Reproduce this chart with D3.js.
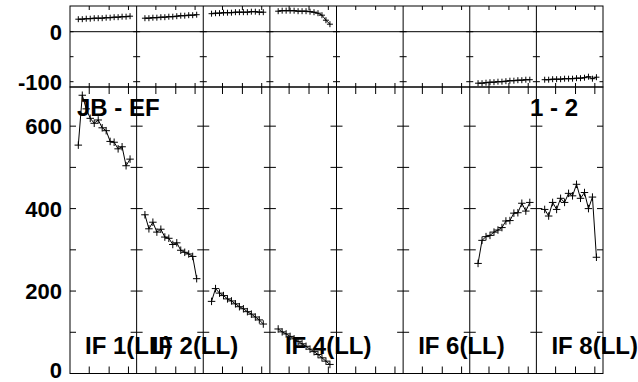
<!DOCTYPE html>
<html><head><meta charset="utf-8">
<script src="https://cdn.jsdelivr.net/npm/d3@7"></script>
<style>html,body{margin:0;padding:0;background:#fff;overflow:hidden}</style>
</head><body>
<script>
// ---- data ----
const channels = [1,2,3,4,5,6,7,8,9,10,11,12,13,14];
const ifNumbers = [1,2,3,4,5,6,7,8];
const ampIF1 = [554, 675, 642, 619, 607, 615, 596, 589, 563, 561, 545, 550, 504, 520];
const ampIF2 = [385, 351, 367, 343, 350, 331, 328, 313, 317, 299, 294, 290, 284, 230];
const ampIF3 = [175, 206, 195, 189, 181, 176, 169, 162, 157, 150, 144, 137, 130, 120];
const ampIF4 = [108, 101, 96, 90, 84, 78, 72, 66, 59, 53, 46, 38, 30, 22];
const ampIF7 = [267, 323, 332, 335, 343, 348, 354, 370, 371, 389, 390, 413, 394, 415];
const ampIF8 = [398, 382, 415, 398, 425, 415, 437, 431, 459, 425, 439, 400, 428, 282];
const phaseIF1 = [25,25,26,26,27,27,27,28,28,29,29,30,30,31];
const phaseIF2 = [27,27,28,28,29,29,30,30,31,32,32,33,33,34];
const phaseIF3 = [36,37,37,38,38,38,39,39,39,39,40,40,39,39];
const phaseIF4 = [41,42,42,42,42,41,41,41,40,39,37,33,23,15];
const phaseIF7 = [-103,-103,-102,-101,-101,-100,-100,-99,-98,-98,-97,-97,-96,-96];
const phaseIF8 = [-96,-96,-95,-95,-95,-94,-94,-94,-93,-93,-92,-90,-94,-91];
const ampSeries = [ampIF1, ampIF2, ampIF3, ampIF4, null, null, ampIF7, ampIF8];
const phaseSeries = [phaseIF1, phaseIF2, phaseIF3, phaseIF4, null, null, phaseIF7, phaseIF8];
const labelIFs = [1,2,4,6,8];
const labelText = ["IF 1(LL)","IF 2(LL)","IF 4(LL)","IF 6(LL)","IF 8(LL)"];
const phaseTicks = [0,-100];
const phaseMinor = [-50,-100,0];
const ampTicks = [0,200,400,600];
const ampMinor = [100,200,300,400,500,600];
const chanTicks = [3.75, 8.75, 13.6];
const baselineLabel = "JB - EF";
const polLabel = "1 - 2";

// ---- layout ----
const W = 638, H = 382;
const L = 70, R = 603, T = 6, MID = 87, B = 373.5;
const svg = d3.select("body").append("svg").attr("width", W).attr("height", H);
const font = "'Liberation Sans', Arial, sans-serif";

const colX = d3.scaleLinear().domain([0, ifNumbers.length]).range([L, R]);
const colW = colX(1) - colX(0);
const yPh = d3.scaleLinear().domain([-110.6, 51.4]).range([MID, T]);
const yAmp = d3.scaleLinear().domain([0, 695]).range([B, MID]);
const chanX = i => d3.scaleLinear().domain([-1.085, 15.65]).range([colX(i), colX(i) + colW]);

const g = svg.append("g").attr("fill","none").attr("stroke","#000").attr("stroke-width",1);

// frames
g.append("rect").attr("x", L).attr("y", T).attr("width", R - L).attr("height", MID - T);
g.append("rect").attr("x", L).attr("y", MID).attr("width", R - L).attr("height", B - MID);
// zero line in phase panel
g.append("line").attr("x1", L).attr("x2", R).attr("y1", yPh(0)).attr("y2", yPh(0));
// column dividers
ifNumbers.slice(1).forEach((d, i) => {
  const x = colX(i + 1);
  g.append("line").attr("x1", x).attr("x2", x).attr("y1", T).attr("y2", B);
});
// y ticks on borders/dividers
d3.range(0, ifNumbers.length + 1).forEach(i => {
  const x = colX(i);
  const lft = i === 0 ? 0 : 3.5, rgt = i === ifNumbers.length ? 0 : 3.5;
  phaseMinor.forEach(v => g.append("line").attr("x1", x - lft).attr("x2", x + rgt).attr("y1", yPh(v)).attr("y2", yPh(v)));
  const lft2 = i === 0 ? 0 : 6, rgt2 = i === ifNumbers.length ? 0 : 6;
  ampMinor.forEach(v => g.append("line").attr("x1", x - lft2).attr("x2", x + rgt2).attr("y1", yAmp(v)).attr("y2", yAmp(v)));
});
// x ticks
ifNumbers.forEach((d, i) => {
  const xs = chanX(i);
  chanTicks.forEach(c => {
    const x = xs(c);
    g.append("line").attr("x1", x).attr("x2", x).attr("y1", T).attr("y2", T + 4);
    g.append("line").attr("x1", x).attr("x2", x).attr("y1", MID - 4).attr("y2", MID);
    g.append("line").attr("x1", x).attr("x2", x).attr("y1", MID).attr("y2", MID + 7);
    g.append("line").attr("x1", x).attr("x2", x).attr("y1", B - 7).attr("y2", B);
  });
});

// tick labels
const tl = svg.append("g").attr("font-family", font).attr("font-weight", "bold").attr("font-size", 22).attr("text-anchor", "end").attr("fill","#000");
phaseTicks.forEach(v => tl.append("text").attr("x", 62).attr("y", yPh(v)).attr("dy", "0.36em").text(v));
ampTicks.forEach(v => tl.append("text").attr("x", 62).attr("y", Math.min(yAmp(v), 370.5)).attr("dy", "0.36em").text(v));

// panel labels
const lab = svg.append("g").attr("font-family", font).attr("font-weight", "bold").attr("font-size", 24).attr("fill","#000");
lab.append("text").attr("x", 77).attr("y", 115.5).text(baselineLabel);
lab.append("text").attr("x", 530).attr("y", 115.5).text(polLabel);
labelIFs.forEach((n, k) => lab.append("text").attr("x", colX(n - 1) + 15).attr("y", 353.5).text(labelText[k]));

// data
const dg = svg.append("g").attr("fill","none").attr("stroke","#000").attr("stroke-width",1);
function plus(sel, x, y, hw, hh) {
  sel.append("line").attr("x1", x - hw).attr("x2", x + hw).attr("y1", y).attr("y2", y);
  sel.append("line").attr("x1", x).attr("x2", x).attr("y1", y - hh).attr("y2", y + hh);
}
ifNumbers.forEach((n, i) => {
  const xs = chanX(i);
  const a = ampSeries[i];
  if (a) {
    const pts = channels.map((c, k) => [xs(c), yAmp(a[k])]);
    dg.append("path").attr("d", d3.line()(pts));
    pts.forEach(p => plus(dg, p[0], p[1], 3.75, 3.75));
  }
  const p = phaseSeries[i];
  if (p) {
    const pts = channels.map((c, k) => [xs(c), yPh(p[k])]);
    dg.append("path").attr("d", d3.line()(pts));
    pts.forEach(q => plus(dg, q[0], q[1], 3, 3));
  }
});
</script>
</body></html>
